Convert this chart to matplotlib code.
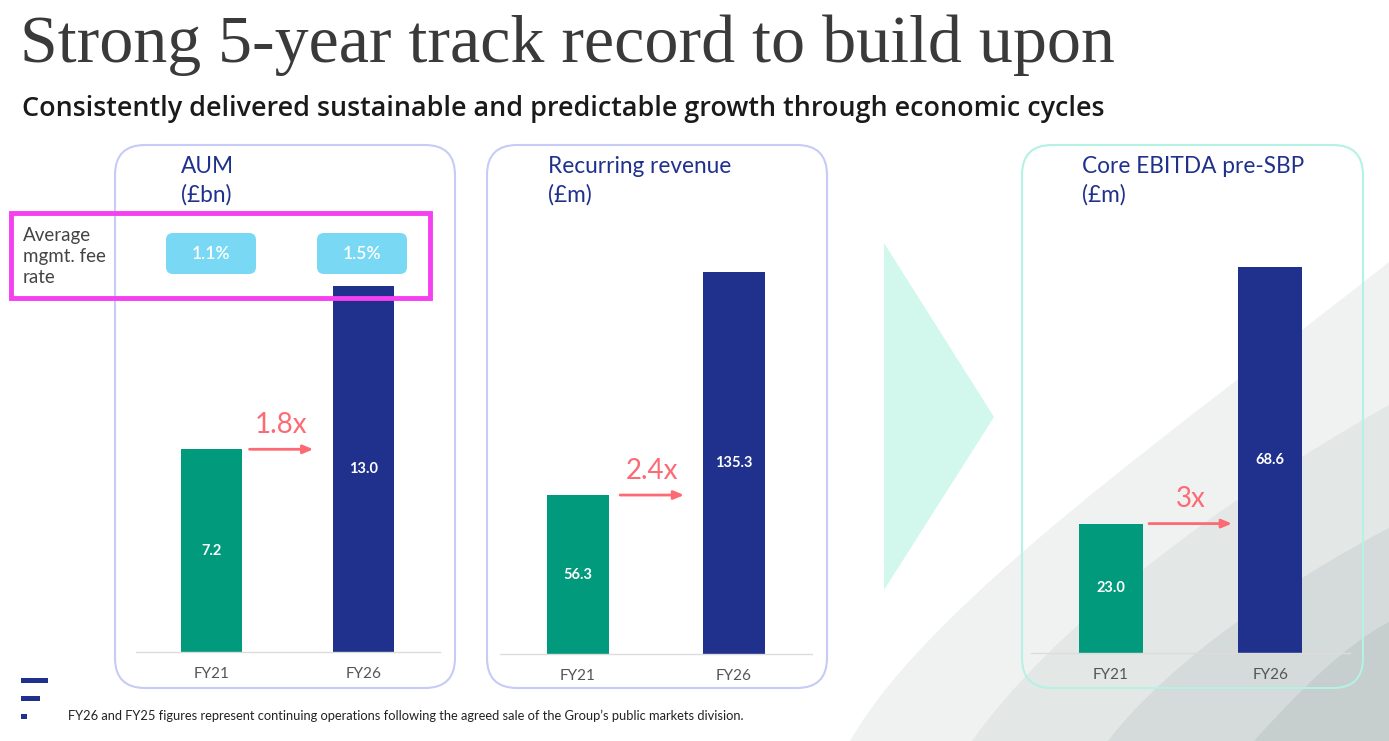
import matplotlib
matplotlib.use("Agg")
import matplotlib.pyplot as plt
from matplotlib.patches import FancyBboxPatch, Polygon, PathPatch, Rectangle
from matplotlib.path import Path

# ======================================
# DATA
# ======================================

years = ["FY21", "FY26"]
aum = [7.2, 13.0]
recurring_revenue = [56.3, 135.3]
core_ebitda = [23.0, 68.6]
multiples = ["1.8x", "2.4x", "3x"]
panel_titles = ["AUM\n(£bn)", "Recurring revenue\n(£m)", "Core EBITDA pre-SBP\n(£m)"]
fee_rates = ["1.1%", "1.5%"]

TITLE = "Strong 5-year track record to build upon"
SUBTITLE = "Consistently delivered sustainable and predictable growth through economic cycles"
FOOTNOTE = ("FY26 and FY25 figures represent continuing operations following "
            "the agreed sale of the Group\u2019s public markets division.")

# ======================================
# STYLE
# ======================================

W, H = 1389, 741
TEAL = "#029a7c"
NAVY = "#1f318c"
SALMON = "#fd6a73"
PILL = "#79d8f3"
MAGENTA = "#f53ff0"
LAVENDER = "#c6ccf6"
MINT_LINE = "#b4f2e3"
MINT_FILL = "#d2f7ec"

SANS = ["Lato", "DejaVu Sans"]

fig = plt.figure(figsize=(W / 100, H / 100), dpi=100)
fig.patch.set_facecolor("white")

bg = fig.add_axes([0, 0, 1, 1], zorder=0)
bg.set_xlim(0, W)
bg.set_ylim(H, 0)
bg.axis("off")

fg = fig.add_axes([0, 0, 1, 1], zorder=10)
fg.set_xlim(0, W)
fg.set_ylim(H, 0)
fg.axis("off")
fg.patch.set_alpha(0)


def curve_fill(p0, p1, p2, p3, color):
    verts = [p0, p1, p2, p3, (W, H), (p0[0], H), p0]
    codes = [Path.MOVETO, Path.CURVE4, Path.CURVE4, Path.CURVE4,
             Path.LINETO, Path.LINETO, Path.CLOSEPOLY]
    bg.add_patch(PathPatch(Path(verts, codes), facecolor=color, edgecolor="none", zorder=0))


# background swooshes (bottom right)
curve_fill((850, 741), (930, 600), (1190, 420), (1389, 262), "#f0f2f1")
curve_fill((972, 741), (1050, 630), (1220, 500), (1389, 405), "#e3e7e6")
curve_fill((1108, 741), (1170, 660), (1290, 580), (1389, 528), "#d5dbda")
curve_fill((1254, 741), (1300, 690), (1345, 645), (1389, 622), "#c6cfce")

# chevron
bg.add_patch(Polygon([(884, 243), (994, 417), (884, 590)], closed=True,
                     facecolor=MINT_FILL, edgecolor="none", zorder=1))

# panels
panels = [
    (115, 455, LAVENDER, "white"),
    (487, 827, LAVENDER, "white"),
    (1022, 1363, MINT_LINE, "none"),
]
for x0, x1, ec, fc in panels:
    bg.add_patch(FancyBboxPatch((x0, 145), x1 - x0, 688 - 145,
                                boxstyle="round,pad=0,rounding_size=30",
                                facecolor=fc, edgecolor=ec, linewidth=1.5, zorder=2))

# title / subtitle
bg.text(20, 45, TITLE, fontsize=49, family="Liberation Serif", color="#3a3a3a",
        va="center", ha="left")
bg.text(22, 109, SUBTITLE, fontsize=19.4, family=["Open Sans", "DejaVu Sans"], weight="semibold",
        color="#1a1a1a", va="center", ha="left")

# panel titles
title_x = [181, 548, 1082]
for tx, t in zip(title_x, panel_titles):
    bg.text(tx, 181, t, fontsize=16.3, family=SANS, color=NAVY,
            va="center", ha="left", linespacing=1.4, zorder=3)

# ======================================
# BAR PANELS
# ======================================

series = [aum, recurring_revenue, core_ebitda]
# axes placement in pixels: left, right, baseline, bar px height of max value
layout = [
    (135.5, 439.5, 652, 366),
    (500, 812, 654, 382),
    (1031, 1350, 653, 386),
]
arrow_span = [(0.25, 0.67), (0.27, 0.68), (0.24, 0.76)]

for vals, (x0, x1, base, hmax), mult, (a0, a1) in zip(series, layout, multiples, arrow_span):
    ax = fig.add_axes([x0 / W, 1 - base / H, (x1 - x0) / W, 390 / H], zorder=5)
    ax.patch.set_alpha(0)
    ax.set_xlim(-0.5, 1.5)
    ax.set_ylim(0, max(vals) * 390 / hmax)
    ax.bar([0, 1], vals, width=0.4, color=[TEAL, NAVY])
    for i, v in enumerate(vals):
        ax.text(i, v / 2, f"{v:.1f}", ha="center", va="center", color="white",
                fontsize=10.5, family=SANS, weight="bold")
    ax.set_xticks([0, 1])
    ax.set_xticklabels(years, fontsize=11, family=SANS, color="#555555")
    ax.tick_params(axis="x", length=0, pad=11)
    ax.set_yticks([])
    for s in ["top", "left", "right"]:
        ax.spines[s].set_visible(False)
    ax.spines["bottom"].set_color("#dcdcdc")
    ax.spines["bottom"].set_linewidth(1)

    ax.annotate("", xy=(a1, vals[0]), xytext=(a0, vals[0]),
                arrowprops=dict(arrowstyle="-|>,head_length=0.6,head_width=0.25",
                                color=SALMON, lw=2, shrinkA=0, shrinkB=0))
    ax.annotate(mult, xy=((a0 + a1) / 2, vals[0]), xytext=(0, 17.5),
                textcoords="offset points", ha="center", va="center",
                fontsize=20, family=SANS, color=SALMON)

# ======================================
# FEE RATE HIGHLIGHT
# ======================================

fg.add_patch(Rectangle((11, 213), 419, 85, facecolor="none", edgecolor=MAGENTA, linewidth=3.5))
fg.text(23, 256.5, "Average\nmgmt. fee\nrate", fontsize=13.5, family=SANS, color="#444444",
        va="center", ha="left", linespacing=1.32)
for cx, rate in zip([211, 362], fee_rates):
    fg.add_patch(FancyBboxPatch((cx - 45, 233), 90, 41,
                                boxstyle="round,pad=0,rounding_size=7",
                                facecolor=PILL, edgecolor="none"))
    fg.text(cx, 254, rate, fontsize=12.5, family=SANS, weight="semibold", color="white",
            ha="center", va="center")

# ======================================
# LOGO + FOOTNOTE
# ======================================

bg.add_patch(Rectangle((21, 678), 27, 5, facecolor=NAVY, edgecolor="none"))
bg.add_patch(Rectangle((21, 696), 19, 5, facecolor=NAVY, edgecolor="none"))
bg.add_patch(Rectangle((21, 714), 6, 5, facecolor=NAVY, edgecolor="none"))
bg.text(68, 716, FOOTNOTE, fontsize=9.3, family=SANS, color="#222222",
        va="center", ha="left")

plt.savefig("out.png", dpi=100)
